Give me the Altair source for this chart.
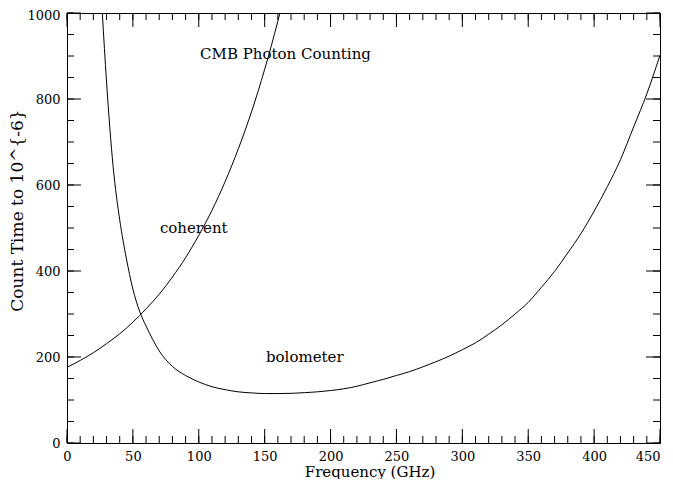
import altair as alt
import pandas as pd

# ---- data ----
coh_x = [0, 10, 20, 30, 40, 50, 60, 70, 80, 90, 100, 110, 120, 130, 140, 150, 160, 161.6]
coh_y = [176, 192, 210, 231, 254, 281, 312, 346, 386, 431, 483, 541, 608, 684, 770, 869, 981, 1000]

bol_x = [26.8, 30, 35, 40, 45, 50, 55, 60, 65, 70, 80, 90, 100, 110, 120, 130, 140, 150, 160,
         170, 180, 190, 200, 210, 220, 230, 240, 250, 260, 270, 280, 290, 300, 310, 320, 330,
         340, 350, 360, 370, 380, 390, 400, 410, 420, 430, 440, 450]
bol_y = [1000, 840, 643, 519, 430, 358, 307, 272, 241, 214, 178, 157, 142, 131, 124, 119, 116.5,
         115, 115, 115.5, 117, 119, 122, 126, 132, 140, 148, 157, 166, 177, 189, 202, 217, 233,
         253, 275, 300, 327, 362, 399, 442, 487, 539, 596, 659, 735, 812, 902]

label_text = ["CMB Photon Counting", "coherent", "bolometer"]
label_x = [101, 70.5, 151]
label_y = [905, 501, 200]

x_major = [0, 50, 100, 150, 200, 250, 300, 350, 400, 450]
x_minor = [v for v in range(0, 451, 10)]
y_major = [0, 200, 400, 600, 800, 1000]
y_minor = [v for v in range(0, 1001, 50)]

W, H = 593, 430
FONT = "DejaVu Serif"

xs = alt.Scale(domain=[0, 450], nice=False, zero=False)
ys = alt.Scale(domain=[0, 1000], nice=False, zero=False)

common = dict(ticks=False, tickSize=0, domain=False, grid=False, labelFlush=False,
              labelFont=FONT, labelFontSize=13, labelColor="black",
              titleFont=FONT, titleFontWeight="normal", titleColor="black")
x_axis = alt.Axis(values=x_major, format="d", labelPadding=7, titleFontSize=15,
                  labelAlign={"condition": {"test": "datum.value >= 450", "value": "right"},
                              "value": "center"},
                  titleY=33, titleX=W / 2 + 6, titleBaseline="alphabetic", **common)
y_axis = alt.Axis(values=y_major, format="d", labelPadding=7, titleFontSize=17,
                  labelOffset={"condition": {"test": "datum.value >= 1000", "value": 2},
                               "value": 0},
                  titleX=-50, titleY=197, titleBaseline="middle", **common)
X_TITLE = "Frequency (GHz)"
Y_TITLE = "Count Time to 10^{-6}"


def X(field):
    return alt.X(field, scale=xs, axis=x_axis, title=X_TITLE)


def Y(field):
    return alt.Y(field, scale=ys, axis=y_axis, title=Y_TITLE)


curves = pd.DataFrame(
    {"freq": coh_x + bol_x,
     "time": coh_y + bol_y,
     "series": ["coherent"] * len(coh_x) + ["bolometer"] * len(bol_x)}
)

lines = alt.Chart(curves).mark_line(
    color="black", strokeWidth=1, clip=True, interpolate="monotone"
).encode(x=X("freq:Q"), y=Y("time:Q"), detail="series:N")


def xticks(vals, length):
    d = pd.DataFrame({"v": vals})
    base = alt.Chart(d).mark_rule(color="black", strokeWidth=1)
    bot = base.encode(x=X("v:Q"), y=alt.value(H), y2=alt.value(H - length))
    top = base.encode(x=X("v:Q"), y=alt.value(0), y2=alt.value(length))
    return [bot, top]


def yticks(vals, length):
    d = pd.DataFrame({"v": vals})
    base = alt.Chart(d).mark_rule(color="black", strokeWidth=1)
    left = base.encode(y=Y("v:Q"), x=alt.value(0), x2=alt.value(length))
    right = base.encode(y=Y("v:Q"), x=alt.value(W), x2=alt.value(W - length))
    return [left, right]


labels = alt.Chart(pd.DataFrame({"t": label_text, "x": label_x, "y": label_y})).mark_text(
    align="left", baseline="middle", font=FONT, fontSize=15, color="black"
).encode(x=X("x:Q"), y=Y("y:Q"), text="t:N")

layers = [lines] + xticks(x_minor, 7) + xticks(x_major, 14) + yticks(y_minor, 7) + yticks(y_major, 14) + [labels]

chart = alt.layer(*layers).properties(
    width=W, height=H,
    autosize=alt.AutoSizeParams(type="none"),
    padding={"left": 59, "top": 5, "right": 5, "bottom": 36},
    background="white",
).configure_view(
    stroke="black", strokeWidth=1
).configure_axis(
    labelFont=FONT, labelFontSize=13, labelColor="black",
    titleFont=FONT, titleFontWeight="normal", titleColor="black",
)

chart.save("out.html", embed_options={"renderer": "svg", "actions": False})
